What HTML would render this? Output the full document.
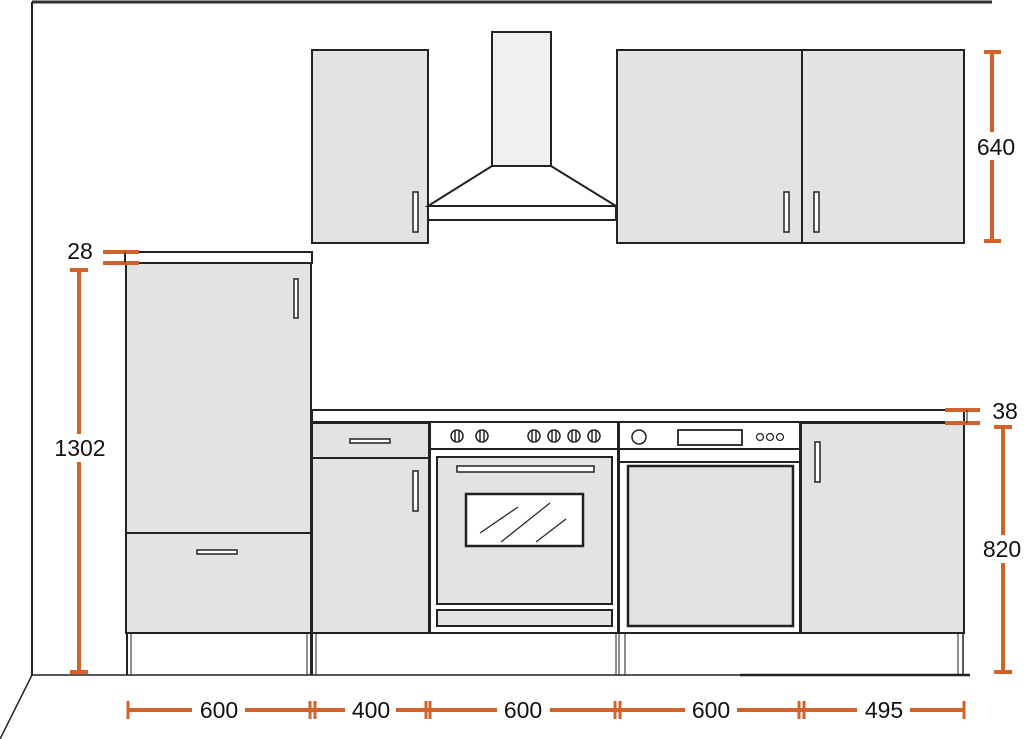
<!DOCTYPE html>
<html><head><meta charset="utf-8"><style>
html,body{margin:0;padding:0;background:#fff;}
svg{display:block;}
text{font-family:"Liberation Sans",sans-serif;font-size:23px;fill:#111;}
</style></head><body>
<svg width="1024" height="739" viewBox="0 0 1024 739" xmlns="http://www.w3.org/2000/svg">
<g stroke="#222" fill="none" stroke-width="2">
<line x1="32" y1="2" x2="992" y2="2" stroke="#333" stroke-width="3"/>
<line x1="32" y1="2" x2="32" y2="675"/>
<line x1="32" y1="675" x2="970" y2="675" stroke-width="1.5"/>
<line x1="740" y1="675" x2="970" y2="675" stroke-width="2.5"/>
<line x1="32" y1="675" x2="0" y2="739" stroke-width="1.5"/>

<rect x="312" y="50" width="116" height="193" fill="#e3e3e3"/>
<rect x="413" y="192" width="5" height="40" fill="#fff" stroke-width="1.5"/>
<rect x="492" y="32" width="59" height="134" fill="#f0f0f0"/>
<polygon points="492,166 551,166 616,206 428,206" fill="#fff"/>
<rect x="428" y="206" width="188" height="14" fill="#fff"/>
<rect x="617" y="50" width="185" height="193" fill="#e3e3e3"/>
<rect x="802" y="50" width="162" height="193" fill="#e3e3e3"/>
<rect x="784" y="192" width="5" height="40" fill="#fff" stroke-width="1.5"/>
<rect x="814" y="192" width="5" height="40" fill="#fff" stroke-width="1.5"/>

<rect x="125" y="252" width="187" height="11" fill="#fff"/>
<rect x="126" y="263" width="185" height="270" fill="#e3e3e3"/>
<rect x="126" y="533" width="185" height="100" fill="#e3e3e3"/>
<rect x="294" y="279" width="4" height="39" fill="#fff" stroke-width="1.5"/>
<rect x="197" y="550" width="40" height="4" fill="#fff" stroke-width="1.5"/>
<line x1="127" y1="633" x2="127" y2="675"/>
<line x1="131" y1="633" x2="131" y2="675" stroke-width="1"/>
<line x1="307" y1="633" x2="307" y2="675" stroke-width="1"/>
<line x1="311" y1="633" x2="311" y2="675"/>

<rect x="312" y="410" width="652" height="12" fill="#fff"/>
<rect x="312" y="423" width="117" height="35" fill="#e3e3e3"/>
<rect x="312" y="458" width="117" height="175" fill="#e3e3e3"/>
<rect x="350" y="439" width="40" height="4" fill="#fff" stroke-width="1.5"/>
<rect x="413" y="471" width="5" height="40" fill="#fff" stroke-width="1.5"/>
<line x1="316" y1="633" x2="316" y2="675" stroke-width="1"/>
<line x1="312" y1="633" x2="312" y2="675"/>

<rect x="430" y="422" width="188" height="211" fill="#fff"/>
<line x1="430" y1="449" x2="618" y2="449"/>
<g stroke-width="1.5" fill="#fff">
<circle cx="457" cy="436" r="6"/><line x1="455" y1="430" x2="455" y2="442"/><line x1="459" y1="430" x2="459" y2="442"/>
<circle cx="482" cy="436" r="6"/><line x1="480" y1="430" x2="480" y2="442"/><line x1="484" y1="430" x2="484" y2="442"/>
<circle cx="534" cy="436" r="6"/><line x1="532" y1="430" x2="532" y2="442"/><line x1="536" y1="430" x2="536" y2="442"/>
<circle cx="554" cy="436" r="6"/><line x1="552" y1="430" x2="552" y2="442"/><line x1="556" y1="430" x2="556" y2="442"/>
<circle cx="574" cy="436" r="6"/><line x1="572" y1="430" x2="572" y2="442"/><line x1="576" y1="430" x2="576" y2="442"/>
<circle cx="594" cy="436" r="6"/><line x1="592" y1="430" x2="592" y2="442"/><line x1="596" y1="430" x2="596" y2="442"/>
</g>
<rect x="437" y="457" width="175" height="147" fill="#e3e3e3"/>
<rect x="457" y="466" width="137" height="6" fill="#fff" stroke-width="1.5"/>
<rect x="466" y="494" width="117" height="52" fill="#fff" stroke-width="2.5"/>
<g stroke-width="1.2">
<line x1="480" y1="533" x2="518" y2="507"/>
<line x1="501" y1="542" x2="550" y2="503"/>
<line x1="536" y1="542" x2="566" y2="519"/>
</g>
<rect x="437" y="610" width="175" height="16" fill="#e3e3e3"/>

<rect x="619" y="422" width="181" height="211" fill="#fff"/>
<line x1="619" y1="449" x2="800" y2="449"/>
<line x1="619" y1="462" x2="800" y2="462"/>
<circle cx="639" cy="437" r="7" stroke-width="1.5"/>
<rect x="678" y="430" width="64" height="15" stroke-width="1.8"/>
<circle cx="760" cy="437" r="3.5" stroke-width="1.2"/>
<circle cx="770" cy="437" r="3.5" stroke-width="1.2"/>
<circle cx="780" cy="437" r="3.5" stroke-width="1.2"/>
<rect x="628" y="466" width="165" height="160" fill="#e3e3e3" stroke-width="2.5"/>

<line x1="430" y1="633" x2="964" y2="633"/>
<line x1="616" y1="633" x2="616" y2="675" stroke-width="1"/>
<line x1="619" y1="633" x2="619" y2="675" stroke-width="1"/>
<line x1="625" y1="633" x2="625" y2="675" stroke-width="1"/>

<rect x="801" y="423" width="163" height="210" fill="#e3e3e3"/>
<rect x="815" y="442" width="5" height="40" fill="#fff" stroke-width="1.5"/>
<line x1="958" y1="633" x2="958" y2="675" stroke-width="1"/>
<line x1="963" y1="633" x2="963" y2="675" stroke-width="1.5"/>
</g>

<g stroke="#d2622a" stroke-width="4" fill="none">
<line x1="992" y1="52" x2="992" y2="132"/>
<line x1="992" y1="160" x2="992" y2="241"/>
<line x1="984" y1="52" x2="1001" y2="52"/>
<line x1="984" y1="241" x2="1001" y2="241"/>
<line x1="103" y1="252" x2="139" y2="252"/>
<line x1="103" y1="263" x2="139" y2="263"/>
<line x1="79" y1="270" x2="79" y2="434"/>
<line x1="79" y1="462" x2="79" y2="672"/>
<line x1="70" y1="270" x2="88" y2="270"/>
<line x1="70" y1="672" x2="88" y2="672"/>
<line x1="945" y1="410" x2="980" y2="410"/>
<line x1="945" y1="423" x2="980" y2="423"/>
<line x1="1003" y1="427" x2="1003" y2="535"/>
<line x1="1003" y1="563" x2="1003" y2="672"/>
<line x1="994" y1="427" x2="1012" y2="427"/>
<line x1="994" y1="672" x2="1012" y2="672"/>
<line x1="128" y1="710" x2="192" y2="710"/>
<line x1="245" y1="710" x2="345" y2="710"/>
<line x1="396" y1="710" x2="497" y2="710"/>
<line x1="550" y1="710" x2="685" y2="710"/>
<line x1="737" y1="710" x2="857" y2="710"/>
<line x1="910" y1="710" x2="964" y2="710"/>
<g stroke-width="3">
<line x1="128" y1="701" x2="128" y2="719"/>
<line x1="310" y1="701" x2="310" y2="719"/>
<line x1="315" y1="701" x2="315" y2="719"/>
<line x1="426" y1="701" x2="426" y2="719"/>
<line x1="430" y1="701" x2="430" y2="719"/>
<line x1="615" y1="701" x2="615" y2="719"/>
<line x1="620" y1="701" x2="620" y2="719"/>
<line x1="799" y1="701" x2="799" y2="719"/>
<line x1="804" y1="701" x2="804" y2="719"/>
<line x1="964" y1="701" x2="964" y2="719"/>
</g>
</g>
<g stroke="#222" stroke-width="1">
<line x1="125" y1="252" x2="125" y2="263"/>
<line x1="967" y1="410" x2="967" y2="423"/>
</g>
<text x="996" y="155" text-anchor="middle">640</text>
<text x="80" y="259" text-anchor="middle">28</text>
<text x="80" y="456" text-anchor="middle">1302</text>
<text x="1005" y="419" text-anchor="middle">38</text>
<text x="1002" y="557" text-anchor="middle">820</text>
<text x="219" y="718" text-anchor="middle">600</text>
<text x="371" y="718" text-anchor="middle">400</text>
<text x="523" y="718" text-anchor="middle">600</text>
<text x="711" y="718" text-anchor="middle">600</text>
<text x="884" y="718" text-anchor="middle">495</text>
</svg>
</body></html>
